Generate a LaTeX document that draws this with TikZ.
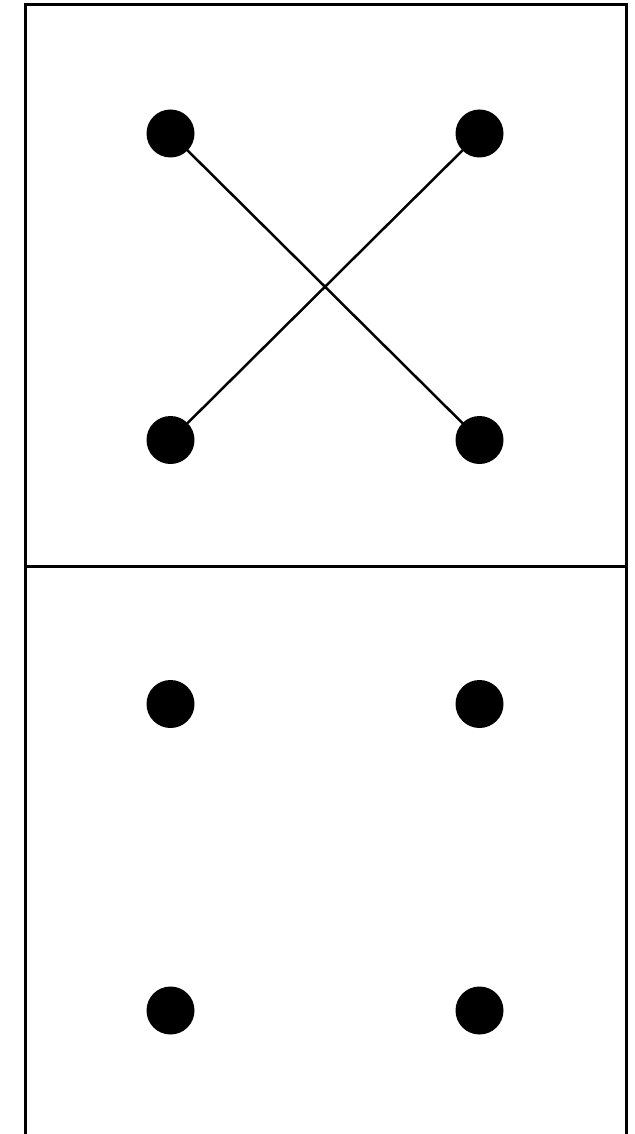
\documentclass[tikz,border=0pt]{standalone}
\begin{document}
\begin{tikzpicture}[x=1pt,y=-1pt,
  dotnode/.style={circle,fill=black,inner sep=0pt,minimum size=48pt},
  frame/.style={line width=3pt},
  link/.style={line width=2.5pt}]
\useasboundingbox (0,0) rectangle (634,1134);
% frame
\draw[frame] (25,1134) -- (25,4.5) -- (626.5,4.5) -- (626.5,1134);
\draw[frame] (25,566) -- (626.5,566);
% top dots
\node[dotnode] (tl) at (170.5,133.5) {};
\node[dotnode] (tr) at (479.5,133.5) {};
\node[dotnode] (bl) at (170.5,440) {};
\node[dotnode] (br) at (479.5,440) {};
\draw[link] (tl.center) -- (br.center);
\draw[link] (tr.center) -- (bl.center);
% bottom dots
\node[dotnode] (tl2) at (170.5,704) {};
\node[dotnode] (tr2) at (479.5,704) {};
\node[dotnode] (bl2) at (170.5,1010.5) {};
\node[dotnode] (br2) at (479.5,1010.5) {};
\end{tikzpicture}
\end{document}
